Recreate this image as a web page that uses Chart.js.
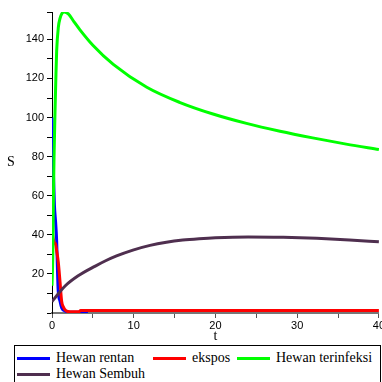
<!DOCTYPE html>
<html>
<head>
<meta charset="utf-8">
<script src="https://cdn.jsdelivr.net/npm/chart.js@4.4.1/dist/chart.umd.min.js"></script>
<style>
  html, body { margin: 0; padding: 0; background: #fff; }
  body { width: 382px; height: 382px; overflow: hidden; position: relative; }
  #plot { position: absolute; left: 0; top: 0; }
  #legend {
    position: absolute; left: 14px; top: 345px; width: 367px; height: 40px;
    border: 1px solid #000; box-sizing: border-box;
    font: 14px "Liberation Serif", "DejaVu Serif", serif; color: #000;
  }
  .item { position: absolute; display: flex; align-items: center; height: 16px; white-space: nowrap; }
  .swatch { width: 33px; height: 3px; margin-right: 6px; }
</style>
</head>
<body>
<canvas id="plot" width="386" height="345"></canvas>
<div id="legend"></div>
<script>
/* ---- data ---- */
const seriesNames = ['Hewan rentan', 'ekspos', 'Hewan terinfeksi', 'Hewan Sembuh'];
const seriesColors = ['#0000ff', '#ff0000', '#00ff00', '#4f2f4f'];

const tRentan = [0, 0.15, 0.3, 0.45, 0.57, 0.67, 0.75, 0.98, 1.2, 1.6, 2.2, 4.4];
const rentan  = [100, 75, 55, 46, 37, 22, 12, 6, 2.5, 1, 0.4, 0.4];

const tEkspos = [0, 0.05, 0.15, 0.3, 0.45, 0.6, 0.77, 0.98, 1.18, 1.4, 1.7, 2.2, 3.3, 3.5, 10, 20, 30, 40];
const ekspos  = [50, 42, 38, 36, 35, 31, 26, 16, 6, 3, 1.2, 0.6, 0.6, 1.3, 1.3, 1.3, 1.3, 1.3];

const tInfeksi = [0, 0.1, 0.16, 0.25, 0.37, 0.47, 0.57, 0.77, 1.0, 1.18, 1.5, 2.0, 2.7, 3.4, 5, 7.5, 11.6, 15.6, 19.7, 23.8, 27.9, 31.9, 36, 40];
const infeksi  = [14, 30, 55, 80, 103, 120, 134, 146, 151, 153, 154, 153, 149, 145, 137, 127.2, 115.5, 107.8, 101.8, 97.0, 93.0, 89.6, 86.4, 83.6];

const tSembuh = [0, 0.8, 1.6, 3.2, 5.3, 6.5, 7.9, 9.9, 12, 14, 16, 18, 20, 24, 28.3, 32.4, 36.4, 40];
const sembuh  = [5.8, 10, 13.8, 19, 24, 26.6, 29.2, 32.2, 34.6, 36.2, 37.3, 38.0, 38.5, 38.9, 38.7, 38.2, 37.4, 36.4];

const xTickStep = 5, xLabelEvery = 10;
const yTickStep = 10, yLabelEvery = 20;

function toPoints(ts, vs) { return ts.map((t, i) => ({ x: t, y: vs[i] })); }

const allSeries = [
  toPoints(tRentan, rentan),
  toPoints(tEkspos, ekspos),
  toPoints(tInfeksi, infeksi),
  toPoints(tSembuh, sembuh)
];

// y label drawn horizontally on the left, like the original plot
const yLabelPlugin = {
  id: 'yLabel',
  afterDraw(chart) {
    const ctx = chart.ctx, area = chart.chartArea;
    ctx.save();
    ctx.font = '14px "Liberation Serif", serif';
    ctx.fillStyle = '#000';
    ctx.textAlign = 'center';
    ctx.textBaseline = 'middle';
    ctx.fillText('S', 11, (area.top + area.bottom) / 2);
    ctx.restore();
  }
};

new Chart(document.getElementById('plot'), {
  type: 'line',
  data: {
    datasets: allSeries.map((pts, i) => ({
      label: seriesNames[i],
      data: pts,
      borderColor: seriesColors[i],
      backgroundColor: seriesColors[i],
      borderWidth: 3,
      pointRadius: 0,
      fill: false,
      cubicInterpolationMode: 'monotone',
      order: allSeries.length - i
    }))
  },
  options: {
    responsive: false,
    animation: false,
    layout: { padding: { top: 12, left: 0, right: 0, bottom: 0 } },
    plugins: { legend: { display: false }, tooltip: { enabled: false } },
    scales: {
      x: {
        type: 'linear', min: 0, max: 40,
        afterFit(scale) { scale.height = 32; },
        border: { color: '#777', width: 2 },
        grid: { drawOnChartArea: false, tickLength: 5, color: '#555' },
        ticks: {
          stepSize: xTickStep, color: '#000', padding: 1,
          font: { family: 'Liberation Sans', size: 11 },
          callback: v => (v % xLabelEvery === 0 ? v : '')
        },
        title: {
          display: true, text: 't', color: '#000',
          font: { family: 'Liberation Serif', size: 14 },
          padding: { top: -2, bottom: 0 }
        }
      },
      y: {
        type: 'linear', min: 0, max: 154,
        afterFit(scale) { scale.width = 52; },
        border: { color: '#000', width: 1 },
        grid: { drawOnChartArea: false, tickLength: 5, color: '#000' },
        ticks: {
          stepSize: yTickStep, color: '#000', padding: 3,
          font: { family: 'Liberation Sans', size: 11 },
          callback: v => (v !== 0 && v % yLabelEvery === 0 ? v : '')
        }
      }
    }
  },
  plugins: [yLabelPlugin]
});

// legend as html below the plot, in Maple's column layout
const legendSlots = [[2, 4], [138, 4], [222, 4], [2, 20]];
const legend = document.getElementById('legend');
seriesNames.forEach((name, i) => {
  const item = document.createElement('div');
  item.className = 'item';
  item.style.left = legendSlots[i][0] + 'px';
  item.style.top = legendSlots[i][1] + 'px';
  item.innerHTML = `<span class="swatch" style="background:${seriesColors[i]}"></span><span>${name}</span>`;
  legend.appendChild(item);
});
</script>
</body>
</html>
